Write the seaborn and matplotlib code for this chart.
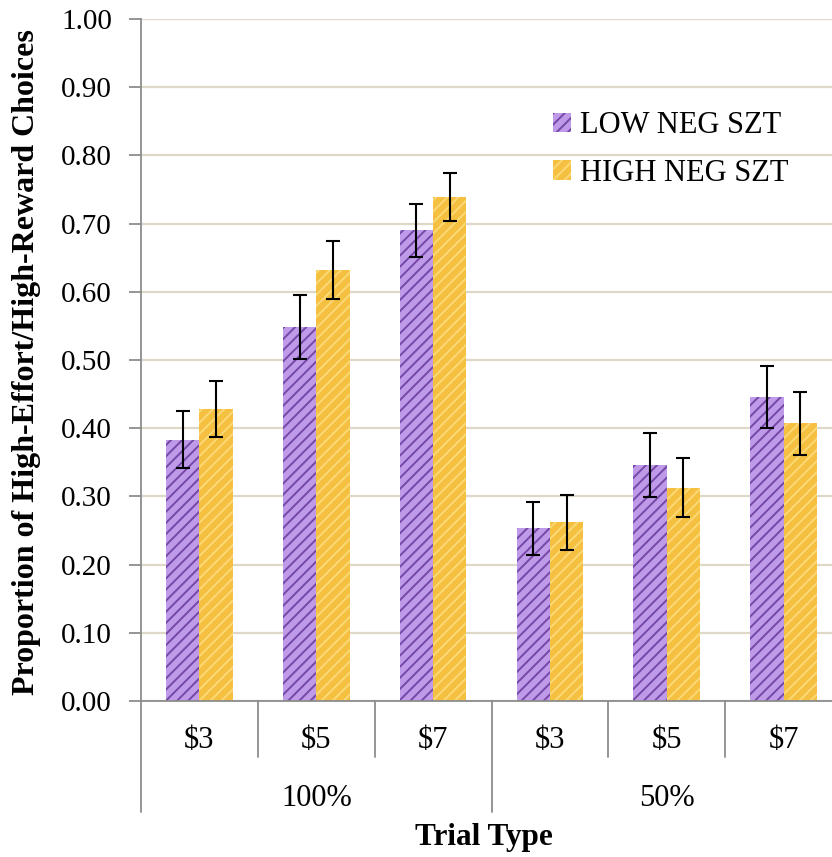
import pandas as pd
import matplotlib
matplotlib.use("Agg")
import matplotlib.pyplot as plt
import matplotlib.transforms as mtransforms
from matplotlib.patches import Patch
import seaborn as sns

# values
conditions = ["100%", "100%", "100%", "50%", "50%", "50%"]
rewards = ["$3", "$5", "$7", "$3", "$5", "$7"]
groups = ["LOW NEG SZT", "HIGH NEG SZT"]
low_neg = [0.383, 0.549, 0.690, 0.253, 0.346, 0.446]
high_neg = [0.428, 0.632, 0.739, 0.262, 0.313, 0.407]
low_err = [0.042, 0.047, 0.039, 0.039, 0.047, 0.045]
high_err = [0.041, 0.043, 0.035, 0.040, 0.043, 0.046]
y_ticks = [0.0, 0.1, 0.2, 0.3, 0.4, 0.5, 0.6, 0.7, 0.8, 0.9, 1.0]

FACE = ["#bf9ae8", "#f5c040"]
STRIPE = ["#7548a8", "#fbd977"]
GRID = "#ddd9c6"
AXIS = "#8c8c8c"

sns.set_style("white")
plt.rcParams["font.family"] = ["Liberation Serif", "DejaVu Serif"]
plt.rcParams["hatch.linewidth"] = 1.4
plt.rcParams["text.color"] = "black"
plt.rcParams["ytick.labelcolor"] = "black"

slots = [f"{c} {r}" for c, r in zip(conditions, rewards)]
df = pd.DataFrame({
    "slot": slots * 2,
    "group": [groups[0]] * 6 + [groups[1]] * 6,
    "value": low_neg + high_neg,
    "err": low_err + high_err,
})

fig = plt.figure(figsize=(8.32, 8.57), dpi=100)
ax = fig.add_axes([141 / 832, 1 - 701 / 857, 701 / 832, 682 / 857])

sns.barplot(data=df, x="slot", y="value", hue="group", order=slots,
            hue_order=groups, width=0.57, errorbar=None, legend=False, ax=ax)

errs = [low_err, high_err]
bar_conts = list(ax.containers)
for i, cont in enumerate(bar_conts):
    xs, ys = [], []
    for bar in cont:
        bar.set_facecolor(FACE[i])
        bar.set_edgecolor(STRIPE[i])
        bar.set_linewidth(0)
        bar.set_hatch("///")
        xs.append(bar.get_x() + bar.get_width() / 2)
        ys.append(bar.get_height())
    ax.errorbar(xs, ys, yerr=errs[i], fmt="none", ecolor="black",
                elinewidth=1.5, capsize=5, capthick=1.5, zorder=5)

ax.set_ylim(0, 1.0)
ax.set_xlim(-0.5, len(slots) - 0.5)
ax.set_yticks(y_ticks)
ax.set_yticklabels([f"{t:.2f}" for t in y_ticks])
ax.yaxis.grid(True, color=GRID, linewidth=1.6)
ax.set_axisbelow(True)
ax.tick_params(axis="y", direction="out", length=9, width=1.3, color=AXIS,
               labelcolor="black", pad=12, labelsize=21, left=True)
ax.tick_params(axis="x", bottom=False, labelbottom=False)
ax.set_xlabel("")
ax.set_ylabel("")
for side in ["top", "right"]:
    ax.spines[side].set_visible(False)
for side in ["left", "bottom"]:
    ax.spines[side].set_color(AXIS)
    ax.spines[side].set_linewidth(1.3)

# two-level category axis below the plot
trans = mtransforms.blended_transform_factory(ax.transData, ax.transAxes)
for b in range(1, len(slots)):
    if conditions[b] != conditions[b - 1]:
        continue
    ax.plot([b - 0.5, b - 0.5], [0, -56 / 682], transform=trans, color=AXIS,
            linewidth=1.3, clip_on=False)
for b in [0, 3, 6]:
    ax.plot([b - 0.5, b - 0.5], [0, -111 / 682], transform=trans, color=AXIS,
            linewidth=1.3, clip_on=False)
for i, r in enumerate(rewards):
    ax.text(i, -39 / 682, r.replace("$", r"\$"), transform=trans, ha="center",
            va="center", fontsize=22, color="black")
for c in ["100%", "50%"]:
    idx = [i for i, v in enumerate(conditions) if v == c]
    ax.text(sum(idx) / len(idx), -98 / 682, c, transform=trans, ha="center",
            va="center", fontsize=22, color="black")

fig.text(484 / 832, 1 - 838 / 857, "Trial Type", ha="center", va="center",
         fontsize=22.5, fontweight="bold", color="black")
fig.text(27 / 832, 1 - 362 / 857, "Proportion of High-Effort/High-Reward Choices",
         ha="center", va="center", rotation=90, fontsize=23, fontweight="bold",
         color="black")

handles = [Patch(facecolor=FACE[i], edgecolor=STRIPE[i], linewidth=0,
                 hatch="///", label=groups[i]) for i in range(2)]
ax.legend(handles=handles, loc="upper left", frameon=False,
          bbox_to_anchor=(553 / 832, 1 - 111 / 857), bbox_transform=fig.transFigure,
          borderaxespad=0, borderpad=0, fontsize=22, handlelength=0.6,
          handleheight=0.6, handletextpad=0.3, labelspacing=0.62,
          labelcolor="black")

fig.savefig("out.png", dpi=100)
